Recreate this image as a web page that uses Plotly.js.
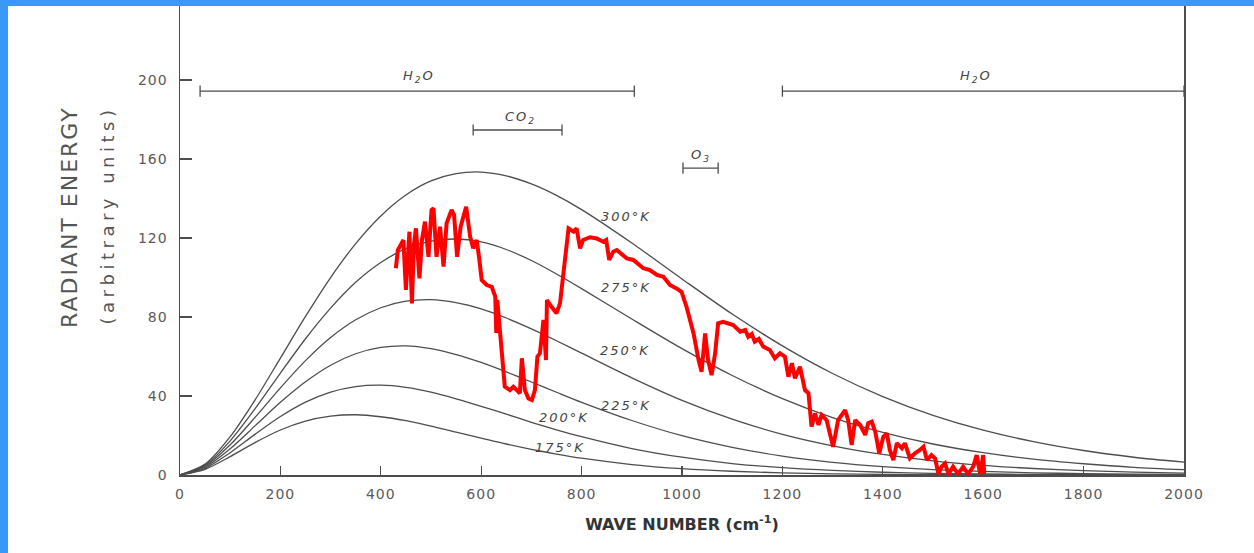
<!DOCTYPE html>
<html>
<head>
<meta charset="utf-8">
<script src="https://cdn.plot.ly/plotly-3.0.1.min.js"></script>
<style>
  html, body { margin: 0; padding: 0; background: #3a98fb; width: 1254px; height: 553px; overflow: hidden; }
  #chart { position: absolute; left: 8px; top: 6px; width: 1246px; height: 547px; background: #fff; }
  #chart .annotation-text { letter-spacing: 2px; }
  #chart .annotation[data-index="10"] .annotation-text { letter-spacing: 2px; }
  #chart .annotation[data-index="11"] .annotation-text { letter-spacing: 4.5px; }
  #chart .xtick text, #chart .ytick text { letter-spacing: 1px; }
</style>
</head>
<body>
<div id="chart"></div>
<script>
// Wave numbers (cm^-1) at which the black-body curves were read
const wn = [0,50,100,150,200,250,300,350,400,450,500,550,600,650,700,750,800,900,1000,1100,1200,1300,1400,1500,1600,1700,1800,1900,2000];
// Black-body curves (arbitrary units)
const bb300 = [0,5.5,19.4,38.2,59.2,80.3,100.0,117.2,131.2,141.8,148.9,152.6,153.4,151.5,147.4,141.6,134.4,117.5,99.3,81.5,65.4,51.4,39.7,30.2,22.7,16.9,12.4,9.0,6.5];
const bb275 = [0,5.0,17.3,33.7,51.6,69.0,84.5,97.6,107.6,114.6,118.4,119.5,118.0,114.2,108.6,101.8,94.4,79.0,64.0,50.4,38.7,29.1,21.6,15.7,11.3,8.0,5.7,3.9,2.7];
const bb250 = [0,4.5,15.3,29.3,44.1,57.9,69.6,78.6,84.7,88.0,88.8,87.3,84.1,79.5,74.0,68.0,61.7,49.2,37.8,28.3,20.6,14.8,10.4,7.2,4.9,3.3,2.2,1.5,1.0];
const bb225 = [0,4.0,13.3,25.0,36.8,47.2,55.6,61.4,64.6,65.4,64.0,61.0,57.0,52.2,47.1,41.9,36.8,27.6,19.9,14.0,9.6,6.4,4.2,2.7,1.8,1.1,0.7,0.4,0.3];
const bb200 = [0,3.4,11.3,20.7,29.6,36.9,42.0,44.8,45.5,44.4,42.0,38.6,34.8,30.8,26.7,22.9,19.4,13.4,9.0,5.8,3.7,2.3,1.4,0.8,0.5,0.3,0.2,0.1,0.05];
const bb175 = [0,2.9,9.3,16.5,22.8,27.3,29.8,30.5,29.5,27.5,24.8,21.7,18.7,15.7,13.0,10.6,8.5,5.3,3.2,1.9,1.1,0.6,0.3,0.2,0.1,0.05,0.03,0.01,0.01];
const curveLabels = ["300°K","275°K","250°K","225°K","200°K","175°K"];
const curveLabelX = [890, 890, 888, 890, 765, 757];
const curveLabelY = [131, 95, 63, 35, 29, 14];

// Observed spectrum (red)
const obsWn = [430,434,445,450,457,462,466,470,477,482,488,495,501,505,511,518,525,531,541,546,552,559,570,578,584,591,596,601,611,621,628,630,632,638,647,657,664,671,677,681,687,694,701,707,712,717,724,729,731,740,750,757,767,774,784,790,797,803,817,830,843,849,855,863,870,890,903,923,936,950,963,976,989,999,1009,1023,1033,1039,1046,1052,1059,1066,1072,1082,1102,1116,1126,1132,1139,1145,1153,1162,1175,1185,1195,1205,1212,1219,1225,1235,1245,1252,1258,1265,1272,1278,1288,1301,1311,1318,1325,1331,1338,1345,1355,1365,1371,1378,1385,1393,1401,1408,1414,1421,1428,1438,1444,1454,1464,1474,1481,1488,1497,1504,1511,1517,1524,1531,1540,1550,1560,1570,1580,1587,1594,1600,1602];
const obsRad = [104.7,113.9,119.0,93.7,123.2,86.9,116.5,124.9,99.6,119.0,128.3,110.5,134.2,135.0,110.5,125.7,105.5,127.4,134.2,131.6,110.5,125.7,135.8,120.7,114.8,119.0,109.7,98.7,96.2,95.3,90.3,71.9,88.6,70.0,44.7,43.0,44.7,43.0,41.4,59.1,43.0,38.8,38.0,43.0,59.9,61.6,78.5,58.2,88.6,85.2,81.9,86.9,108.9,124.9,123.2,124.9,114.8,119.0,120.4,119.8,118.1,119.0,108.9,113.1,113.9,109.7,108.9,104.7,103.8,101.3,100.4,96.2,94.5,92.8,85.2,71.7,58.2,52.3,71.7,58.2,50.6,61.6,76.8,77.6,75.9,72.6,73.4,70.0,71.4,67.5,68.9,65.0,63.3,59.1,61.6,59.9,49.8,56.6,49.0,54.8,43.0,41.4,24.5,31.2,25.3,30.4,27.8,14.3,27.8,30.4,32.9,27.8,15.2,27.8,25.3,20.3,26.2,27.0,21.9,11.0,19.4,21.1,12.7,7.6,16.1,13.5,16.1,8.5,11.0,12.7,14.3,7.6,10.1,8.5,0.5,4.2,5.9,0.5,4.2,0.5,4.2,0.5,4.2,10.1,0.5,10.1,0.5];

// Absorption bands
const bandNames = ["H<sub>2</sub>O","H<sub>2</sub>O","CO<sub>2</sub>","O<sub>3</sub>"];
const bandStart = [40, 1200, 584, 1002];
const bandEnd = [905, 2000, 761, 1072];
const bandLevel = [194.4, 194.4, 174.7, 155.4];
const bandLabelX = [476, 1586, 679, 1038];
const bandLabelY = [202, 202, 181, 162];

// Axis titles
const yTitle = "RADIANT ENERGY";
const ySubTitle = "(arbitrary units)";
const xTitle = "WAVE NUMBER (cm<sup>-1</sup>)";

const grey = '#4d4d4d';
const curves = [bb300, bb275, bb250, bb225, bb200, bb175];
const traces = [];
curves.forEach(function (c) {
  traces.push({x: wn, y: c, type: 'scatter', mode: 'lines',
    line: {color: grey, width: 1.3, shape: 'spline', smoothing: 0.8}, hoverinfo: 'skip'});
});
for (let i = 0; i < bandStart.length; i++) {
  traces.push({x: [bandStart[i], bandEnd[i]], y: [bandLevel[i], bandLevel[i]], type: 'scatter', mode: 'lines+markers',
    line: {color: grey, width: 1.3},
    marker: {symbol: 'line-ns-open', size: 8, line: {color: grey, width: 1.3}}, hoverinfo: 'skip'});
}
traces.push({x: obsWn, y: obsRad, type: 'scatter', mode: 'lines',
  line: {color: '#ff0000', width: 4}, hoverinfo: 'skip'});

const annotations = [];
for (let i = 0; i < curveLabels.length; i++) {
  annotations.push({x: curveLabelX[i], y: curveLabelY[i], xref: 'x', yref: 'y', showarrow: false,
    text: curveLabels[i],
    font: {family: 'DejaVu Sans', size: 13, color: '#444', style: 'italic'}});
}
for (let i = 0; i < bandNames.length; i++) {
  annotations.push({x: bandLabelX[i], y: bandLabelY[i], xref: 'x', yref: 'y', showarrow: false,
    text: bandNames[i],
    font: {family: 'DejaVu Sans', size: 13, color: '#444', style: 'italic'}});
}
annotations.push({x: -0.1106, y: 0.550, xref: 'paper', yref: 'paper', showarrow: false, textangle: -90,
  xanchor: 'center', yanchor: 'middle',
  text: yTitle,
  font: {family: 'DejaVu Sans', size: 22, color: '#555'}});
annotations.push({x: -0.0727, y: 0.554, xref: 'paper', yref: 'paper', showarrow: false, textangle: -90,
  xanchor: 'center', yanchor: 'middle',
  text: ySubTitle,
  font: {family: 'DejaVu Sans', size: 18, color: '#555'}});

const layout = {
  width: 1246, height: 547,
  margin: {l: 172, r: 70, t: 0, b: 78},
  paper_bgcolor: '#ffffff', plot_bgcolor: '#ffffff',
  showlegend: false,
  font: {family: 'DejaVu Sans', color: '#555'},
  xaxis: {
    range: [0, 2000], dtick: 200, tick0: 0,
    showgrid: false, zeroline: false,
    showline: true, linecolor: grey, linewidth: 1.5,
    ticks: 'inside', ticklen: 9, tickcolor: grey, tickwidth: 1.2,
    ticklabelstandoff: 6,
    tickfont: {family: 'DejaVu Sans', size: 14, color: '#5a5a5a'},
    title: {text: xTitle, standoff: 17,
      font: {family: 'DejaVu Sans', size: 16, color: '#333', weight: 'bold'}}
  },
  yaxis: {
    range: [0, 237.5], dtick: 40, tick0: 0,
    showgrid: false, zeroline: false,
    showline: true, linecolor: grey, linewidth: 1.5, mirror: true,
    ticks: 'inside', ticklen: 12, tickcolor: grey, tickwidth: 1.2,
    ticklabelstandoff: 8,
    tickfont: {family: 'DejaVu Sans', size: 14, color: '#5a5a5a'}
  },
  annotations: annotations
};

Plotly.newPlot('chart', traces, layout, {staticPlot: true, displayModeBar: false});
</script>
</body>
</html>
